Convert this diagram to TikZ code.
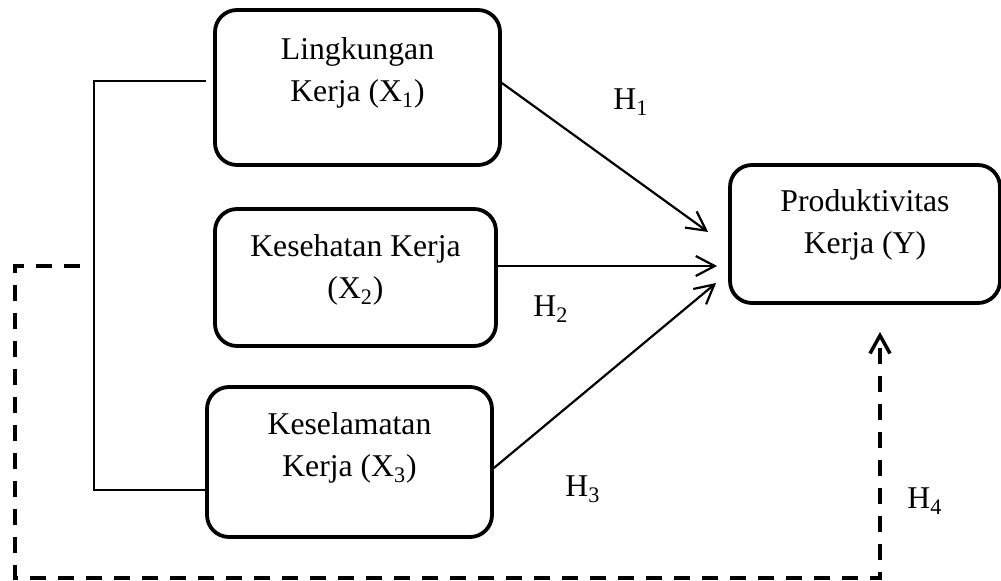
\documentclass[tikz,border=0pt]{standalone}
\usepackage{fontspec}
\setmainfont{Liberation Serif}
\usetikzlibrary{arrows.meta}
\newcommand\boxtext[4]{\begin{minipage}[c][#2][t]{#1}\centering\rule{0pt}{#3}#4\end{minipage}}
\begin{document}
\begin{tikzpicture}[x=0.5pt,y=-0.5pt,
  font=\fontsize{15.85}{21}\selectfont,
  varbox/.style={draw, line width=1.9pt, rounded corners=11pt, inner sep=0pt},
  arr/.style={line width=1.1pt, -{Straight Barb[length=9.5pt,width=10pt]}},
  thinline/.style={line width=1pt},
  dashline/.style={line width=1.75pt, dash pattern=on 8pt off 6pt, -{Straight Barb[length=9pt,width=10pt]}},
  hlabel/.style={anchor=base west, inner sep=0pt}]
\useasboundingbox (0,0) rectangle (1001,581);
% boxes
\node[varbox] (x1) at (357.5,87.5) {\boxtext{142.5pt}{77.5pt}{25pt}{Lingkungan\\Kerja (X\textsubscript{1})}};
\node[varbox] (x2) at (355.5,277.5) {\boxtext{140.5pt}{68.5pt}{24pt}{Kesehatan Kerja\\(X\textsubscript{2})}};
\node[varbox] (x3) at (349.5,462) {\boxtext{142.5pt}{75pt}{24pt}{Keselamatan\\Kerja (X\textsubscript{3})}};
\node[varbox] (y) at (865,234) {\boxtext{135pt}{69pt}{23.5pt}{Produktivitas\\Kerja (Y)}};
% bracket linking X1 and X3
\coordinate (bk) at (94,490);
\draw[thinline] ([xshift=-3.5pt,yshift=3.25pt]x1.west) -| (bk) -- ([yshift=-14pt]x3.west);
% arrows
\draw[arr] ([yshift=2.25pt]x1.east) -- ([xshift=-10pt,yshift=1pt]y.west);
\draw[arr] ([yshift=5.75pt]x2.east) -- ([xshift=-5.5pt,yshift=-16pt]y.west);
\draw[arr] ([yshift=-3pt]x3.east) -- ([xshift=-6pt,yshift=-24.5pt]y.west);
% dashed path
\coordinate (dstart) at (80,266);
\coordinate (dc1) at (15,266);
\coordinate (dc2) at (15,578);
\draw[dashline] (dstart) -- (dc1) -- (dc2) -| ([xshift=7.5pt,yshift=-13.5pt]y.south);
% labels
\node[hlabel] (h1) at (613,110) {H\textsubscript{1}};
\node[hlabel] (h2) at (533,317) {H\textsubscript{2}};
\node[hlabel] (h3) at (565,497) {H\textsubscript{3}};
\node[hlabel] (h4) at (907,509) {H\textsubscript{4}};
\end{tikzpicture}
\end{document}
